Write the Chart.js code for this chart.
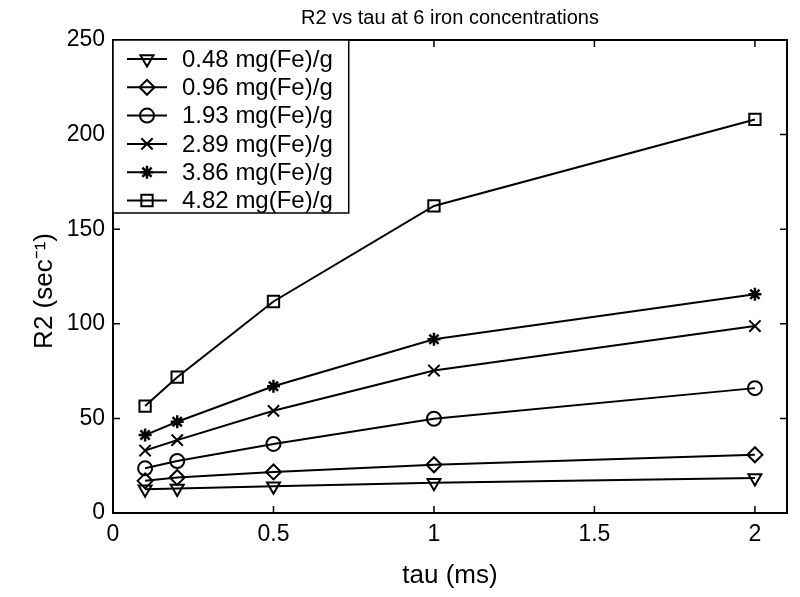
<!DOCTYPE html>
<html>
<head>
<meta charset="utf-8">
<script src="https://cdn.jsdelivr.net/npm/chart.js@4.4.1/dist/chart.umd.min.js"></script>
<style>
  html, body { margin: 0; padding: 0; background: #fff; }
</style>
</head>
<body>
<canvas id="r2Chart" width="800" height="597"></canvas>
<script>
// tau (ms) and R2 values
const tau = [0.1, 0.2, 0.5, 1, 2];
const r2_048 = [12.5, 13, 14.2, 16, 18.5];
const r2_096 = [17, 18.8, 21.7, 25.5, 30.8];
const r2_193 = [23.6, 27.5, 36.5, 49.8, 66];
const r2_289 = [33, 38.5, 54, 75.3, 98.8];
const r2_386 = [41.2, 48.2, 67, 91.8, 115.6];
const r2_482 = [56.5, 71.8, 111.8, 162.3, 208];
const seriesLabels = ['0.48 mg(Fe)/g', '0.96 mg(Fe)/g', '1.93 mg(Fe)/g', '2.89 mg(Fe)/g', '3.86 mg(Fe)/g', '4.82 mg(Fe)/g'];
const xTicks = [0, 0.5, 1, 1.5, 2];
const yTicks = [0, 50, 100, 150, 200, 250];

const FONT = '"Liberation Sans", Arial, Helvetica, sans-serif';

let toPoints = vals => vals.map((v, i) => ({x: tau[i], y: v}));

let makeSet = (label, vals, style, radius, rot, bw) => ({
    label: label,
    data: toPoints(vals),
    borderColor: '#000',
    borderWidth: 2,
    pointStyle: style,
    pointRadius: radius,
    pointRotation: rot,
    pointBorderWidth: bw,
    pointBorderColor: '#000',
    pointBackgroundColor: 'rgba(0,0,0,0)',
    tension: 0,
    fill: false
});

// box + inward tick marks like the matlab axes
const framePlugin = {
    id: 'frame',
    afterDraw(chart) {
        const {ctx, chartArea: a, scales: {x, y}} = chart;
        ctx.save();
        ctx.strokeStyle = '#000';
        ctx.lineWidth = 1.5;
        ctx.beginPath();
        xTicks.forEach(v => {
            const px = x.getPixelForValue(v);
            ctx.moveTo(px, a.bottom); ctx.lineTo(px, a.bottom - 7);
            ctx.moveTo(px, a.top); ctx.lineTo(px, a.top + 7);
        });
        yTicks.forEach(v => {
            const py = y.getPixelForValue(v);
            ctx.moveTo(a.left, py); ctx.lineTo(a.left + 7, py);
            ctx.moveTo(a.right, py); ctx.lineTo(a.right - 7, py);
        });
        ctx.stroke();
        ctx.lineWidth = 2;
        ctx.strokeRect(a.left, a.top, a.right - a.left, a.bottom - a.top);
        ctx.restore();
    }
};

// legend box in the upper-left corner, line + marker + text
const boxLegend = {
    id: 'boxLegend',
    afterDraw(chart) {
        const {ctx, chartArea: a} = chart;
        const sets = chart.data.datasets;
        ctx.save();
        ctx.font = '24px ' + FONT;
        const textW = Math.max(...sets.map(d => ctx.measureText(d.label).width));
        const left = a.left, top = a.top;
        const w = 69 + textW + 16;
        const h = 173;
        ctx.fillStyle = '#fff';
        ctx.fillRect(left, top, w, h);
        ctx.strokeStyle = '#000';
        ctx.lineWidth = 1.5;
        ctx.strokeRect(left, top, w, h);
        sets.forEach((ds, i) => {
            const cy = top + 19 + i * 28.3;
            ctx.strokeStyle = '#000';
            ctx.lineWidth = 2;
            ctx.beginPath();
            ctx.moveTo(left + 14, cy);
            ctx.lineTo(left + 54, cy);
            ctx.stroke();
            ctx.lineWidth = ds.pointBorderWidth;
            ctx.fillStyle = 'rgba(0,0,0,0)';
            Chart.helpers.drawPoint(ctx, {
                pointStyle: ds.pointStyle,
                rotation: ds.pointRotation,
                radius: ds.pointRadius,
                borderWidth: ds.pointBorderWidth
            }, left + 34, cy);
            ctx.fillStyle = '#000';
            ctx.textBaseline = 'middle';
            ctx.textAlign = 'left';
            ctx.fillText(ds.label, left + 69, cy + 1);
        });
        ctx.restore();
    }
};

const r2Chart = new Chart(document.getElementById('r2Chart'), {
    type: 'line',
    data: {
        datasets: [
            makeSet(seriesLabels[0], r2_048, 'triangle', 7.5, 180, 2),
            makeSet(seriesLabels[1], r2_096, 'rectRot', 7.5, 0, 2),
            makeSet(seriesLabels[2], r2_193, 'circle', 7, 0, 2),
            makeSet(seriesLabels[3], r2_289, 'crossRot', 8, 0, 2),
            makeSet(seriesLabels[4], r2_386, 'star', 6.5, 0, 2.5),
            makeSet(seriesLabels[5], r2_482, 'rect', 8, 0, 2)
        ]
    },
    options: {
        responsive: false,
        animation: false,
        devicePixelRatio: 1,
        layout: {padding: {left: 0, right: 13, top: 0, bottom: 0}},
        plugins: {
            legend: {display: false},
            tooltip: {enabled: false},
            title: {
                display: true,
                fullSize: false,
                text: 'R2 vs tau at 6 iron concentrations',
                color: '#000',
                font: {family: FONT, size: 20, weight: 'normal'},
                padding: {top: 6, bottom: 10}
            }
        },
        scales: {
            x: {
                type: 'linear',
                min: 0,
                max: 2.1,
                afterBuildTicks: s => { s.ticks = xTicks.map(v => ({value: v})); },
                afterFit: s => { s.height = 84; },
                grid: {display: false, drawTicks: false},
                border: {display: false},
                ticks: {color: '#000', font: {family: FONT, size: 23}, padding: 8, maxRotation: 0, autoSkip: false,
                    callback: v => String(v)},
                title: {display: true, text: 'tau (ms)', color: '#000', font: {family: FONT, size: 26}, padding: {top: 0, bottom: 6}}
            },
            y: {
                type: 'linear',
                min: 0,
                max: 250,
                afterBuildTicks: s => { s.ticks = yTicks.map(v => ({value: v})); },
                afterFit: s => { s.width = 113; },
                grid: {display: false, drawTicks: false},
                border: {display: false},
                ticks: {color: '#000', font: {family: FONT, size: 23}, padding: 8},
                title: {display: true, text: 'R2 (sec⁻¹)    ', color: '#000', font: {family: FONT, size: 26}, padding: {top: 29, bottom: 0}}
            }
        }
    },
    plugins: [framePlugin, boxLegend]
});
</script>
</body>
</html>
